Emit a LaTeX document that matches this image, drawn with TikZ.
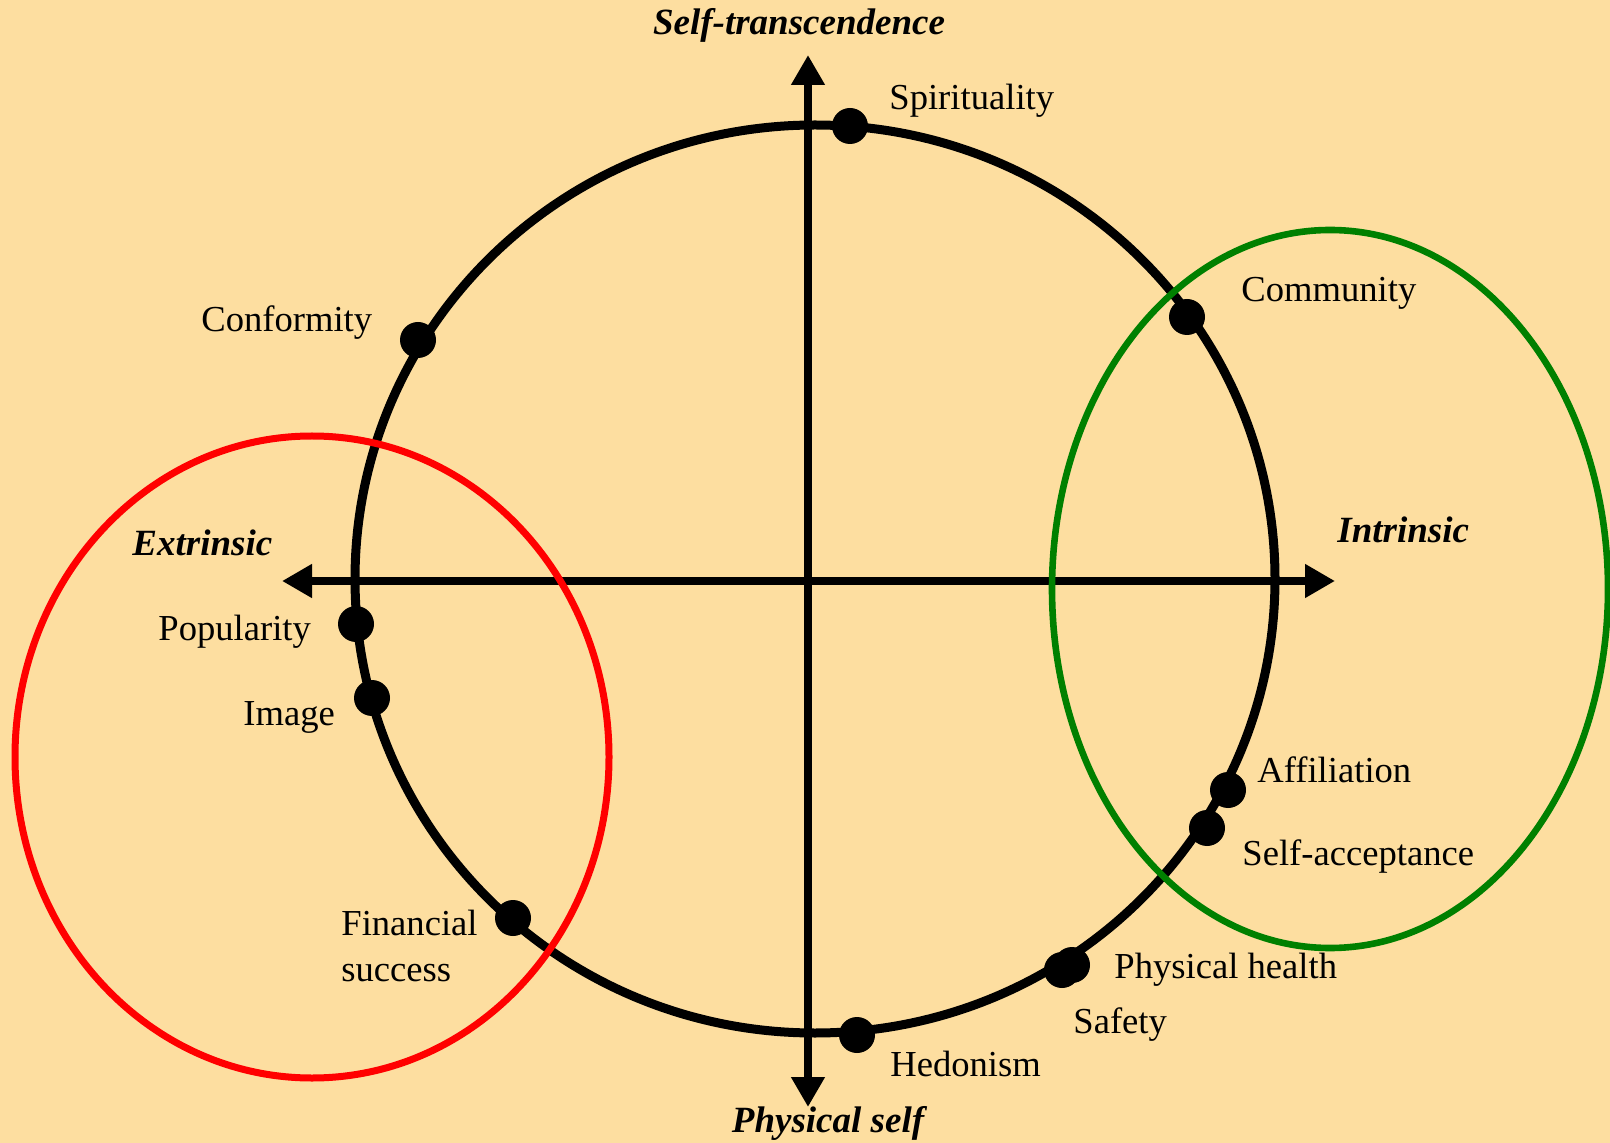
\documentclass[tikz,border=0pt]{standalone}
\usepackage{fontspec}
\setmainfont{Liberation Serif}
\usetikzlibrary{arrows.meta}
\definecolor{paper}{RGB}{253,222,160}
\definecolor{leafgreen}{RGB}{0,128,0}

\begin{document}
\begin{tikzpicture}[
  x=0.5pt, y=-0.5pt,
  value/.style={circle, fill=black, inner sep=0pt, minimum size=18pt},
  lbl/.style={anchor=base west, inner sep=0pt, align=left,
    font=\fontsize{18.3}{23}\selectfont},
  pole/.style={anchor=base, inner sep=0pt,
    font=\fontsize{18.5}{23}\selectfont\bfseries\itshape},
  >={Triangle[length=15pt, width=16pt]}
]
  \fill[paper] (0,0) rectangle (1610,1143);
  \clip (0,0) rectangle (1610,1143);

  % the circumplex
  \draw[line width=4.5pt] (815,579) ellipse [x radius=230pt, y radius=227pt];

  \coordinate (top) at (808,55);
  \coordinate (bottom) at (808,1107);
  \coordinate (west) at (282,581);
  \coordinate (east) at (1335,581);
  \draw[<->, line width=3.75pt] (bottom) -- (top);
  \draw[<->, line width=3.75pt] (west) -- (east);

  % extrinsic and intrinsic groups
  \draw[red, line width=3.5pt] (312,757) ellipse [x radius=148.5pt, y radius=160.5pt];
  \draw[leafgreen, line width=3.3pt] (1330,589) ellipse [x radius=139pt, y radius=179.5pt];

  % goals on the circle
  \node[value] (spir) at (850,126) {};
  \node[value] (comm) at (1187,317) {};
  \node[value] (conf) at (418,340) {};
  \node[value] (pop) at (356,624) {};
  \node[value] (img) at (372,698) {};
  \node[value] (fin) at (513,918) {};
  \node[value] (hed) at (857,1035) {};
  \node[value] (saf) at (1062,970) {};
  \node[value] (phys) at (1072,965) {};
  \node[value] (aff) at (1228,790) {};
  \node[value] (selfacc) at (1207,828) {};

  \node[lbl] (spirtxt) at (889,110) {Spirituality};
  \node[lbl] (commtxt) at (1241,302) {Community};
  \node[lbl] (conftxt) at (201,332) {Conformity};
  \node[lbl] (poptxt) at (158,640) {Popularity};
  \node[lbl] (imgtxt) at (243,725) {Image};
  \node[lbl] (fintxt) at (341,981) {Financial\\success};
  \node[lbl] (hedtxt) at (890,1076) {Hedonism};
  \node[lbl] (saftxt) at (1073,1033) {Safety};
  \node[lbl] (phystxt) at (1114,978) {Physical health};
  \node[lbl] (afftxt) at (1257,782) {Affiliation};
  \node[lbl] (selfacctxt) at (1242,865) {Self-acceptance};

  % poles
  \node[pole] (transc) at (799,35) {Self-transcendence};
  \node[pole] (physself) at (828,1132) {Physical self};
  \node[pole, anchor=base west] (extr) at (132,556) {Extrinsic};
  \node[pole, anchor=base west] (intr) at (1337,543) {Intrinsic};
\end{tikzpicture}
\end{document}
